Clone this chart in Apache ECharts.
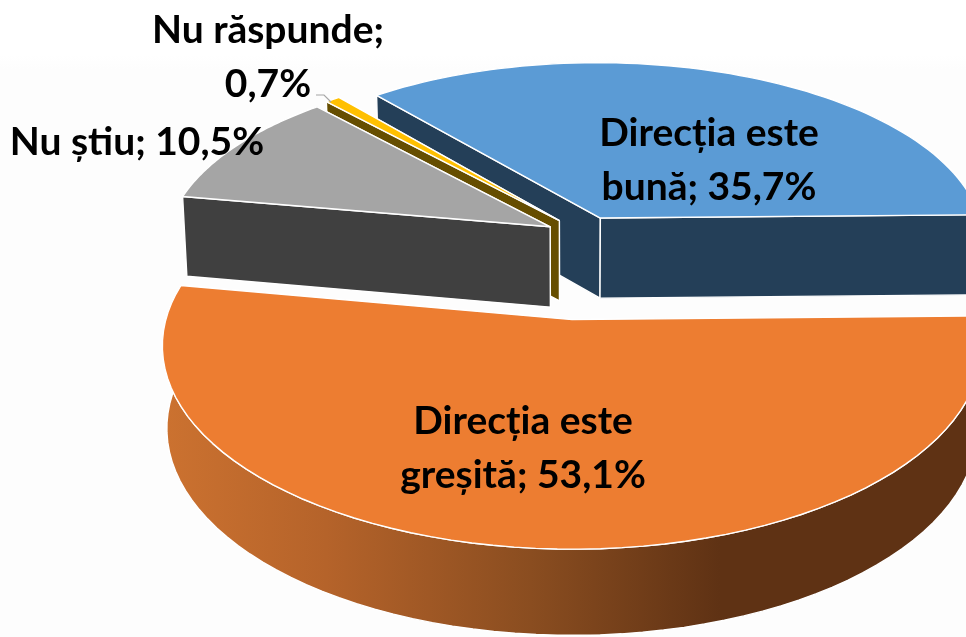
<!DOCTYPE html>
<html>
<head>
<meta charset="utf-8">
<script src="https://cdn.jsdelivr.net/npm/echarts@6/dist/echarts.min.js"></script>
<style>
  html, body { margin: 0; padding: 0; background: linear-gradient(#ffffff 0, #ffffff 55px, #fdfdfd 70px, #fdfdfd 100%); }
  #pie { width: 966px; height: 637px; }
</style>
</head>
<body>
<div id="pie"></div>
<script>
  const categories = ['Direcția este bună', 'Direcția este greșită', 'Nu știu', 'Nu răspunde'];
  const shares = [35.7, 53.1, 10.5, 0.7];

  // looks of each slice, same order as categories
  const topColors = ['#5B9BD5', '#ED7D31', '#A5A5A5', '#FFC000'];
  const wallColors = ['#243F58', '#5F3214', '#404040', '#664E00'];
  const explode = [[0.08, -0.245], [0.005, 0.3], [-0.052, -0.195], [-0.028, -0.23]];
  const drawOrder = [1, 4, 3, 2];
  const labelLines = [
    ['Direcția este', 'bună; 35,7%'],
    ['Direcția este', 'greșită; 53,1%'],
    ['Nu știu; 10,5%'],
    ['Nu răspunde;', '0,7%']
  ];
  const labelAt = [[709, 133], [523, 421], [137, 142], [268, 30]];

  // fake 3d camera
  const startAngle = 320.4;
  const cx = 570, cy = 262, radius = 391, flat = 185, dist = 8, depth = 81, shrink = 0.989;

  function project(X, Y, low) {
    const p = dist / (dist - Y);
    return [
      cx + radius * X * p * (low ? shrink : 1),
      cy + flat * Y * p + (low ? depth * Math.pow(p, 0.35) : 0)
    ];
  }

  function sliceAngles(idx) {
    const total = shares.reduce((a, b) => a + b, 0);
    const before = shares.slice(0, idx).reduce((a, b) => a + b, 0);
    return [startAngle + before / total * 360, startAngle + (before + shares[idx]) / total * 360];
  }

  function renderSlice(params, api) {
    const idx = params.dataIndex;
    const [from, to] = sliceAngles(idx);
    const [ox, oy] = explode[idx];
    const steps = 72;
    const rim = [];
    for (let i = 0; i <= steps; i++) {
      const a = (from + (to - from) * i / steps) * Math.PI / 180;
      rim.push([ox + Math.sin(a), oy - Math.cos(a)]);
    }
    const apex = [ox, oy];
    const base = drawOrder[idx] * 10;
    const face = (pts, fill, z) => ({
      type: 'polygon',
      z2: base + z,
      shape: { points: pts },
      style: { fill: fill, stroke: '#ffffff', lineWidth: 1.4, lineJoin: 'round' }
    });

    const upperRim = rim.map(q => project(q[0], q[1], false));
    const lowerRim = rim.map(q => project(q[0], q[1], true));

    let wallFill = wallColors[idx];
    if (idx === 1) {
      wallFill = new echarts.graphic.LinearGradient(0, 0, 1, 0, [
        { offset: 0, color: '#CC7230' },
        { offset: 0.2, color: '#B5632A' },
        { offset: 0.45, color: '#8A4D20' },
        { offset: 0.68, color: '#5F3214' },
        { offset: 1, color: '#5F3214' }
      ]);
    }

    const cutFace = q => [
      project(apex[0], apex[1], false), project(q[0], q[1], false),
      project(q[0], q[1], true), project(apex[0], apex[1], true)
    ];
    // the cut nearer to the viewer goes on top
    const first = rim[0], last = rim[steps];
    const cuts = first[1] > last[1] ? [last, first] : [first, last];

    const children = [
      face(upperRim.concat(lowerRim.slice().reverse()), wallFill, 1),
      face(cutFace(cuts[0]), wallColors[idx], 2),
      face(cutFace(cuts[1]), wallColors[idx], 3),
      face([project(apex[0], apex[1], false)].concat(upperRim), topColors[idx], 4)
    ];

    labelLines[idx].forEach((line, n) => {
      children.push({
        type: 'text',
        z2: 100,
        style: {
          text: line,
          x: labelAt[idx][0],
          y: labelAt[idx][1] + n * 54,
          align: 'center',
          verticalAlign: 'middle',
          fill: '#000000',
          font: 'bold 39px Lato'
        }
      });
    });

    // small leader line for the thin slice
    if (idx === 3) {
      children.push({
        type: 'polyline',
        z2: 90,
        shape: { points: [[316, 95], [324, 95], [331, 102]] },
        style: { fill: null, stroke: '#A6A6A6', lineWidth: 1.2 }
      });
    }

    return { type: 'group', children: children };
  }

  const myChart = echarts.init(document.getElementById('pie'), null, { renderer: 'canvas' });

  myChart.setOption({
    backgroundColor: 'transparent',
    animation: false,
    series: [
      {
        type: 'custom',
        coordinateSystem: 'none',
        clip: false,
        data: categories.map((name, i) => ({ name: name, value: shares[i] })),
        renderItem: renderSlice
      }
    ]
  });
</script>
</body>
</html>
